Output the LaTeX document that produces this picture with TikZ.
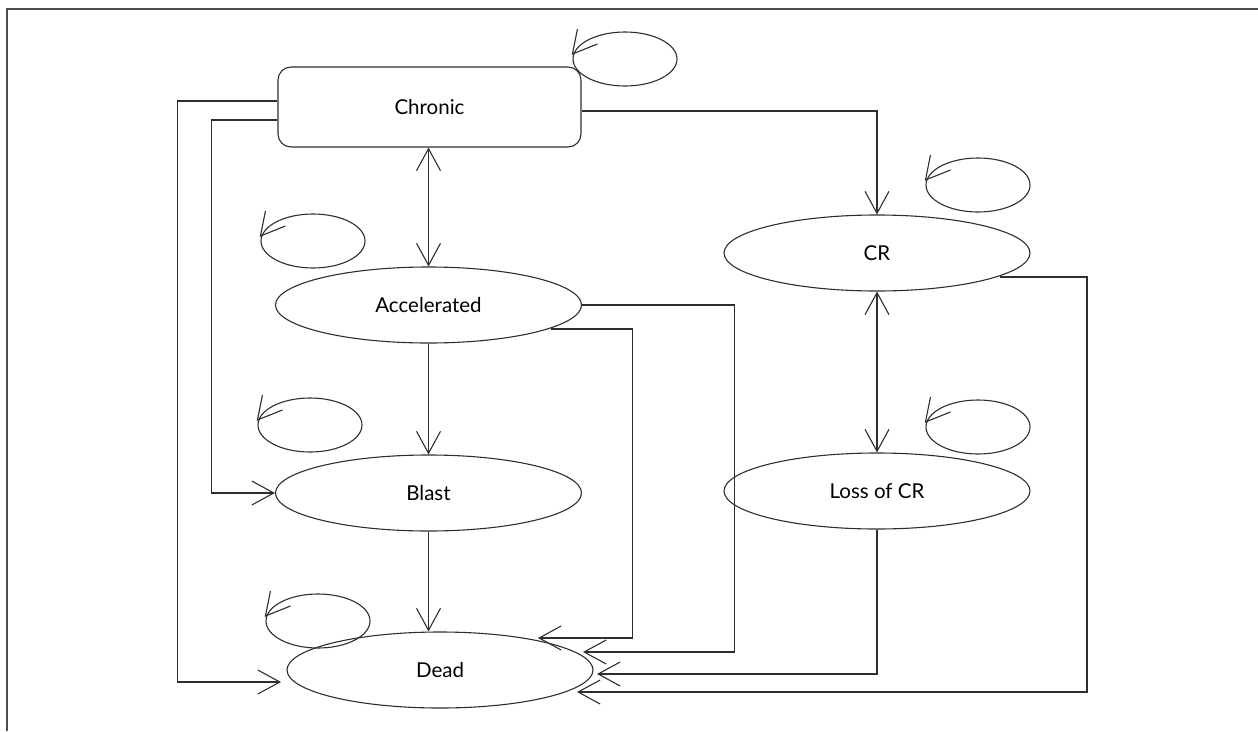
\documentclass[tikz,border=0pt]{standalone}
\usepackage{fontspec}
\setmainfont{Lato}
\usetikzlibrary{shapes.geometric,arrows.meta}
\definecolor{ink}{HTML}{2E2E2E}
\tikzset{
  state/.style={draw=ink, line width=1.1pt, ellipse, minimum width=306pt,
    minimum height=76pt, inner sep=0pt, font=\fontsize{20.5}{24}\selectfont},
  startbox/.style={draw=ink, line width=1.1pt, rectangle, rounded corners=13pt,
    minimum width=303pt, minimum height=80pt, inner sep=0pt,
    font=\fontsize{20.5}{24}\selectfont},
  loopell/.style={draw=ink, line width=1.1pt, ellipse, minimum width=104pt,
    minimum height=54pt, inner sep=0pt},
  flow/.style={draw=ink, line width=1.1pt, ->},
  both/.style={draw=ink, line width=1.1pt, <->},
  >={Straight Barb[length=22pt,width=24pt]}
}
% tick drawn at the left end of a loop ellipse
\newcommand{\staytick}[1]{%
  \draw[ink, line width=1.1pt] ([shift={(5,-30)}]#1.west) -- ([shift={(0,-5)}]#1.west)
    -- ([shift={(25,-15)}]#1.west);}
\begin{document}
\begin{tikzpicture}[x=1pt, y=-1pt]
\useasboundingbox (0,0) rectangle (1258,731);
% frame
\draw[ink!85, line width=2pt] (7,731) -- (7,9) -- (1258,9);

% states
\node[startbox] (chronic) at (429.5,107) {Chronic};
\node[state] (acc)   at (428.5,305) {Accelerated};
\node[state] (blast) at (428.5,493) {Blast};
\node[state] (cr)    at (877,253)   {CR};
\node[state] (loss)  at (877,491)   {Loss of CR};
\node[state] (dead)  at (440,670)   {Dead};

% staying in a state
\node[loopell] (lchronic) at (625,59)  {};
\node[loopell] (lacc)     at (313,241) {};
\node[loopell] (lblast)   at (310,425) {};
\node[loopell] (lcr)      at (978,185) {};
\node[loopell] (lloss)    at (978,427) {};
\node[loopell] (ldead)    at (318,621) {};
\staytick{lchronic}
\staytick{lacc}
\staytick{lblast}
\staytick{lcr}
\staytick{lloss}
\staytick{ldead}

% transitions
\draw[both] (chronic.south -| acc.north) -- (acc.north);
\draw[flow] (acc.south) -- (blast.north);
\draw[flow] (blast.south) -- (blast.south |- dead.north);
\draw[both] (cr.south) -- (loss.north);
\draw[flow] ([shift={(0,4)}]chronic.east) -| (cr.north);
\draw[flow] ([shift={(0,-6)}]chronic.west) -- ++(-100,0) |- ([shift={(-159,12)}]dead.center);
\draw[flow] ([shift={(0,13)}]chronic.west) -- ++(-66,0) |- (blast.west);
\draw[flow] ([shift={(122,24)}]acc.center) -- ++(82,0) |- ([shift={(98,-32)}]dead.center);
\draw[flow] (acc.east) -- ++(152,0) |- ([shift={(143,-18)}]dead.center);
\draw[flow] (loss.south) |- ([shift={(157,4)}]dead.center);
\draw[flow] ([shift={(123,24)}]cr.center) -- ++(87,0) |- ([shift={(137,22)}]dead.center);
\end{tikzpicture}
\end{document}
